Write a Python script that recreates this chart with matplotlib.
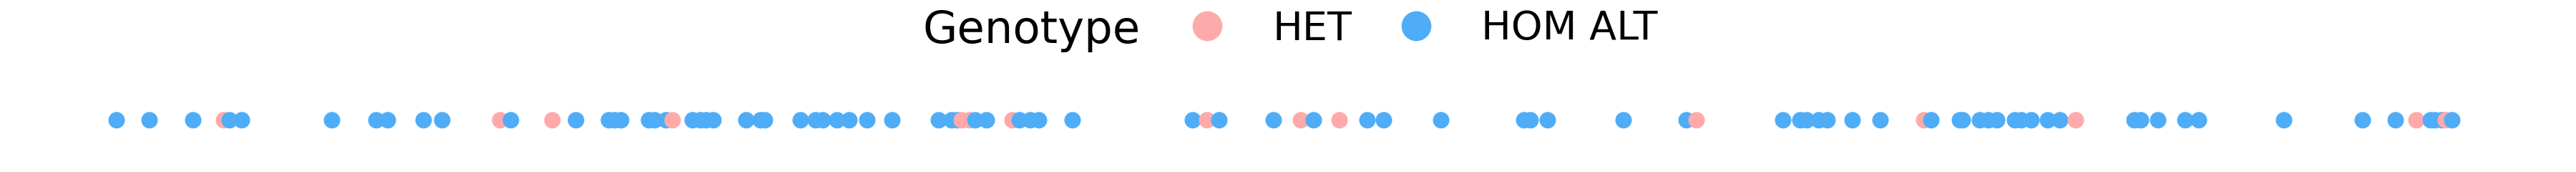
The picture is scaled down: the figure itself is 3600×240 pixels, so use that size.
import matplotlib
matplotlib.use("Agg")
import matplotlib.pyplot as plt
from matplotlib.lines import Line2D

# variant positions along the track (in track units) and their genotype
positions = [
    163, 209, 270, 313, 321, 338, 464, 526, 542, 592, 618, 699, 714, 772, 805,
    851, 859, 868, 907, 915, 931, 940, 968, 979, 987, 997, 1043, 1063, 1069,
    1119, 1140, 1150, 1170, 1187, 1212, 1247, 1312, 1330, 1338, 1344,
    1355, 1363, 1379, 1415, 1425, 1440, 1452, 1499, 1667, 1687, 1704, 1780,
    1818, 1836, 1872, 1911, 1934, 2014, 2130, 2139, 2163, 2269, 2357, 2371,
    2492, 2516, 2525, 2542, 2554, 2589, 2628, 2689, 2699, 2739, 2743, 2767,
    2779, 2791, 2816, 2825, 2839, 2862, 2879, 2901, 2983, 2992, 3016, 3054,
    3073, 3192, 3302, 3348, 3377, 3397, 3403, 3413, 3418, 3427,
]
genotypes = [
    "HOM", "HOM", "HOM", "HET", "HOM", "HOM", "HOM", "HOM", "HOM", "HOM", "HOM",
    "HET", "HOM", "HET", "HOM", "HOM", "HOM", "HOM", "HOM", "HOM", "HOM", "HET",
    "HOM", "HOM", "HOM", "HOM", "HOM", "HOM", "HOM", "HOM", "HOM", "HOM", "HOM",
    "HOM", "HOM", "HOM", "HOM", "HOM", "HOM", "HET", "HET", "HOM", "HOM",
    "HET", "HOM", "HOM", "HOM", "HOM", "HOM", "HET", "HOM", "HOM", "HET", "HOM",
    "HET", "HOM", "HOM", "HOM", "HOM", "HOM", "HOM", "HOM", "HOM", "HET", "HOM",
    "HOM", "HOM", "HOM", "HOM", "HOM", "HOM", "HET", "HOM", "HOM", "HOM", "HOM",
    "HOM", "HOM", "HOM", "HOM", "HOM", "HOM", "HOM", "HET", "HOM", "HOM", "HOM",
    "HOM", "HOM", "HOM", "HOM", "HOM", "HET", "HOM", "HOM", "HOM", "HET", "HOM",
]
legend_labels = {"HET": "HET", "HOM": "HOM ALT"}
colors = {"HET": "#FFAAAA", "HOM": "#4FADF7"}

W, H = 3600, 240
fig = plt.figure(figsize=(W / 100, H / 100), dpi=100)
ax = fig.add_axes([0, 0, 1, 1])

# one scatter call so later points sit on top of earlier ones
ax.scatter(positions, [0] * len(positions),
           c=[colors[g] for g in genotypes], s=275, linewidths=0)

ax.set_xlim(0, W)
ax.set_ylim(-0.301, 0.699)
ax.axis("off")

# legend: title on the left, entries in a row
fig.text(1594 / W, 1 - 60 / H, "Genotype", fontsize=45,
         ha="right", va="baseline")
handles = [Line2D([], [], ls="", marker="o", markersize=30, markeredgewidth=0,
                  color=colors[k]) for k in ["HET", "HOM"]]
leg = fig.legend(handles, [legend_labels[k] for k in ["HET", "HOM"]],
                 loc="center left", bbox_to_anchor=(1631 / W, 1 - 36 / H),
                 ncol=2, frameon=False, fontsize=40, borderpad=0,
                 borderaxespad=0, handlelength=2.0, handletextpad=0.65,
                 columnspacing=0.6)

# nudge the legend so the first marker sits where the reference has it
fig.canvas.draw()
h0 = leg.legend_handles[0]
mx, my = h0.get_transform().transform(h0.get_xydata())[1]
dx, dy = 1687 - mx, (H - 36) - my
leg.set_bbox_to_anchor((1631 / W + dx / W, 1 - 36 / H + dy / H),
                       transform=fig.transFigure)

fig.savefig("out.png", dpi=100)
